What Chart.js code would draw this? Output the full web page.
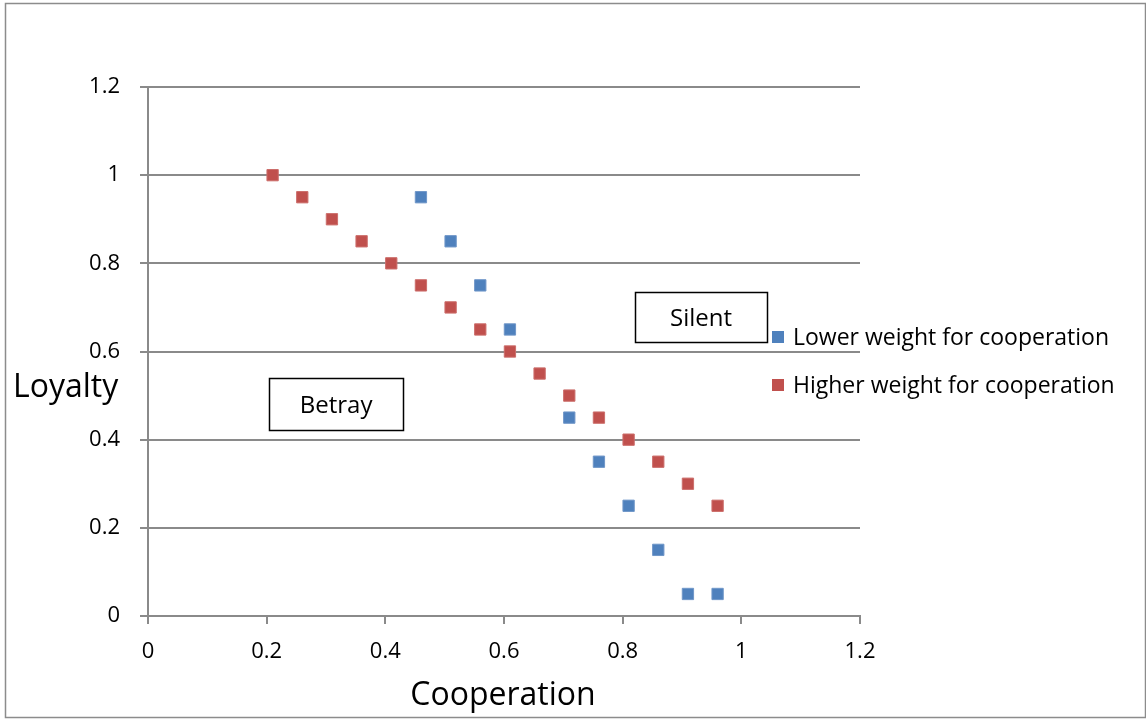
<!DOCTYPE html>
<html><head><meta charset="utf-8">
<script src="https://cdn.jsdelivr.net/npm/chart.js@4.4.1/dist/chart.umd.min.js"></script>
<style>html,body{margin:0;padding:0;background:#fff}#wrap{width:1146px;height:719px;position:relative}canvas{display:block}</style>
</head><body><div id="wrap"><canvas id="c" width="1146" height="719"></canvas></div>
<script>
const seriesNames = ['Lower weight for cooperation', 'Higher weight for cooperation'];
const lowerX = [0.46, 0.51, 0.56, 0.61, 0.71, 0.76, 0.81, 0.86, 0.91, 0.96];
const lowerY = [0.95, 0.85, 0.75, 0.65, 0.45, 0.35, 0.25, 0.15, 0.05, 0.05];
const higherX = [0.21, 0.26, 0.31, 0.36, 0.41, 0.46, 0.51, 0.56, 0.61, 0.66, 0.71, 0.76, 0.81, 0.86, 0.91, 0.96];
const higherY = [1.0, 0.95, 0.9, 0.85, 0.8, 0.75, 0.7, 0.65, 0.6, 0.55, 0.5, 0.45, 0.4, 0.35, 0.3, 0.25];
const tickLabels = ['0', '0.2', '0.4', '0.6', '0.8', '1', '1.2'];
const xTitle = 'Cooperation';
const yTitle = 'Loyalty';
const regionLabels = ['Betray', 'Silent'];
const regionX = [0.317, 0.932];
const regionY = [0.481, 0.678];

const FONT = '"Open Sans", Lato, sans-serif';
const GRID = '#8a8a8a';
const colors = ['#4F81BD', '#C0504D'];
const edge = ['#6f96c8', '#cc6e6b'];

function pts(xs, ys) { return xs.map((x, i) => ({x: x, y: ys[i]})); }
function tickFmt(v) {
  const i = Math.round(v / 0.2);
  return tickLabels[i] !== undefined ? tickLabels[i] : '';
}

const decor = {
  id: 'decor',
  beforeDraw(chart) {
    const ctx = chart.ctx;
    ctx.save();
    ctx.fillStyle = '#fff';
    ctx.fillRect(0, 0, chart.width, chart.height);
    ctx.strokeStyle = '#8c8c8c';
    ctx.lineWidth = 1.5;
    ctx.strokeRect(5.5, 3.5, 1140, 714);
    ctx.restore();
  },
  afterDatasetsDraw(chart) {
    const ctx = chart.ctx;
    const xs = chart.scales.x, ys = chart.scales.y;
    ctx.save();
    // region boxes
    ctx.font = '24px ' + FONT;
    ctx.textAlign = 'center';
    ctx.textBaseline = 'alphabetic';
    const sizes = [[134, 52], [132, 50]];
    regionLabels.forEach((t, i) => {
      const cx = xs.getPixelForValue(regionX[i]);
      const cy = ys.getPixelForValue(regionY[i]);
      const w = sizes[i][0], h = sizes[i][1];
      ctx.fillStyle = '#fff';
      ctx.fillRect(cx - w / 2, cy - h / 2, w, h);
      ctx.strokeStyle = '#000';
      ctx.lineWidth = 1.5;
      ctx.strokeRect(Math.round(cx - w / 2) + 0.5, Math.round(cy - h / 2) + 0.5, w, h);
      ctx.fillStyle = '#000';
      ctx.fillText(t, cx, cy + 9);
    });
    // legend
    ctx.textAlign = 'left';
    ctx.textBaseline = 'alphabetic';
    ctx.font = '23px ' + FONT;
    chart.data.datasets.forEach((ds, i) => {
      const cy = 337 + i * 48;
      ctx.fillStyle = ds.backgroundColor;
      ctx.fillRect(772, cy - 6, 12, 12);
      ctx.fillStyle = '#000';
      ctx.fillText(ds.label, 793, cy + 8);
    });
    // axis titles
    ctx.font = '32px ' + FONT;
    ctx.textAlign = 'left';
    ctx.fillText(yTitle, 13, 397);
    ctx.textAlign = 'center';
    ctx.fillText(xTitle, 503, 705);
    ctx.restore();
  }
};

new Chart(document.getElementById('c'), {
  type: 'scatter',
  data: {
    datasets: [
      {label: seriesNames[0], data: pts(lowerX, lowerY), backgroundColor: colors[0], borderColor: edge[0], borderWidth: 1, pointStyle: 'rect', pointRadius: 8, order: 2},
      {label: seriesNames[1], data: pts(higherX, higherY), backgroundColor: colors[1], borderColor: edge[1], borderWidth: 1, pointStyle: 'rect', pointRadius: 8, order: 1}
    ]
  },
  options: {
    responsive: false,
    devicePixelRatio: 1,
    animation: false,
    events: [],
    layout: {padding: {left: 0, top: 87, right: 286, bottom: 0}},
    plugins: {legend: {display: false}, tooltip: {enabled: false}},
    scales: {
      x: {
        type: 'linear', min: 0, max: 1.2,
        afterFit(s) { s.height = 103; },
        ticks: {stepSize: 0.2, callback: tickFmt, color: '#000', font: {family: FONT, size: 22}, padding: 15, maxRotation: 0},
        grid: {drawOnChartArea: false, drawTicks: true, tickLength: 8, color: GRID, lineWidth: 2},
        border: {color: GRID, width: 2}
      },
      y: {
        type: 'linear', min: 0, max: 1.2,
        afterFit(s) { s.width = 148; },
        ticks: {stepSize: 0.2, callback: tickFmt, color: '#000', font: {family: FONT, size: 22}, padding: 20},
        grid: {drawOnChartArea: true, drawTicks: true, tickLength: 8, color: GRID, lineWidth: 2},
        border: {color: GRID, width: 2}
      }
    }
  },
  plugins: [decor]
});
</script>
</body></html>
